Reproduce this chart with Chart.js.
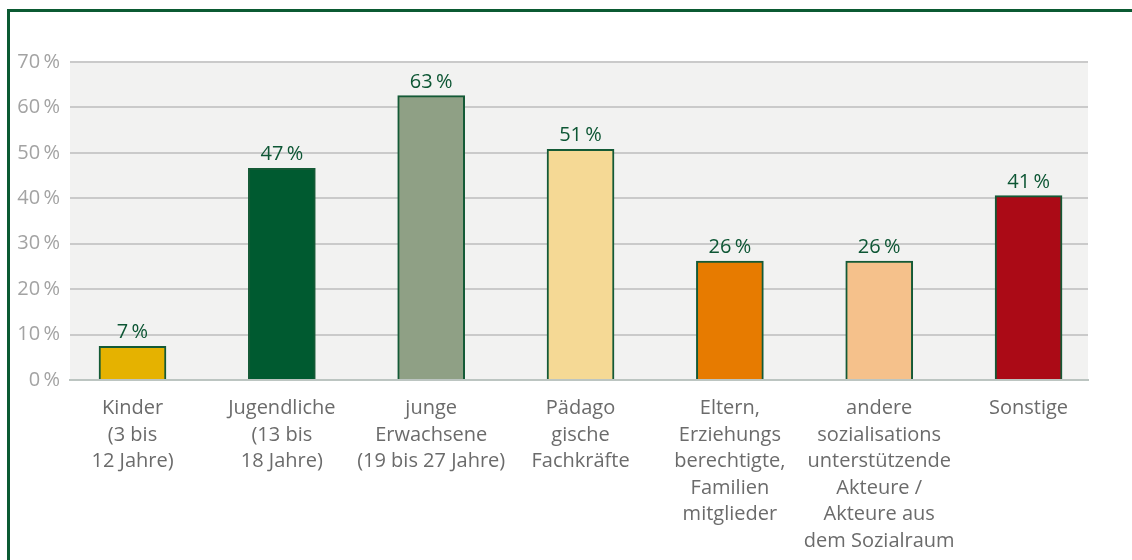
<!DOCTYPE html>
<html>
<head>
<meta charset="utf-8">
<script src="https://cdn.jsdelivr.net/npm/chart.js@4/dist/chart.umd.min.js"></script>
<style>
  html, body { margin: 0; padding: 0; background: #ffffff; overflow: hidden; }
  #wrap { position: relative; width: 1132px; height: 560px; }
  #frame { position: absolute; left: 7px; top: 9px; width: 1200px; height: 700px;
           border: 3px solid #0b5a32; box-sizing: border-box; }
  canvas { position: absolute; left: 0; top: 0; }
</style>
</head>
<body>
<div id="wrap">
  <div id="frame"></div>
  <canvas id="c" width="1132" height="560"></canvas>
</div>
<script>
const categories = [
  ["Kinder", "(3 bis", "12 Jahre)"],
  ["Jugendliche", "(13 bis", "18 Jahre)"],
  ["junge", "Erwachsene", "(19 bis 27 Jahre)"],
  ["Pädago", "gische", "Fachkräfte"],
  ["Eltern,", "Erziehungs", "berechtigte,", "Familien", "mitglieder"],
  ["andere", "sozialisations", "unterstützende", "Akteure /", "Akteure aus", "dem Sozialraum"],
  ["Sonstige"]
];
const values = [7.4, 46.6, 62.6, 50.8, 26.2, 26.2, 40.6];
const valueLabels = ["7\u2009%", "47\u2009%", "63\u2009%", "51\u2009%", "26\u2009%", "26\u2009%", "41\u2009%"];
const barColors = ["#e5b200", "#005a30", "#8fa085", "#f5d995", "#e77b00", "#f5c18b", "#ab0a16"];
const yTicks = [0, 10, 20, 30, 40, 50, 60, 70];

const FONT = "'Open Sans', sans-serif";

const bgPlugin = {
  id: 'bg',
  beforeDraw(chart) {
    const a = chart.chartArea, ctx = chart.ctx;
    ctx.save();
    ctx.fillStyle = '#f2f2f1';
    ctx.fillRect(a.left, a.top, a.right - a.left, a.bottom - a.top);
    ctx.restore();
  }
};
const labelPlugin = {
  id: 'vlabels',
  afterDatasetsDraw(chart) {
    const ctx = chart.ctx;
    const meta = chart.getDatasetMeta(0);
    ctx.save();
    ctx.font = "20px " + FONT;
    ctx.fillStyle = '#0d5634';
    ctx.textAlign = 'center';
    ctx.textBaseline = 'alphabetic';
    meta.data.forEach((bar, i) => {
      ctx.fillText(valueLabels[i], bar.x, bar.y - 8);
    });
    ctx.restore();
  }
};

new Chart(document.getElementById('c'), {
  type: 'bar',
  data: {
    datasets: [{
      data: values.map((v, i) => ({ x: i, y: v })),
      backgroundColor: barColors,
      borderColor: '#145a36',
      borderWidth: 2,
      borderSkipped: 'bottom',
      barThickness: 67
    }]
  },
  options: {
    responsive: false,
    animation: false,
    devicePixelRatio: 1,
    layout: { padding: { top: 62, right: 44, left: 0, bottom: 0 } },
    plugins: { legend: { display: false }, tooltip: { enabled: false } },
    scales: {
      x: {
        type: 'linear',
        offset: false,
        min: -0.4185,
        max: 6.398,
        afterBuildTicks: (axis) => { axis.ticks = categories.map((_, i) => ({ value: i })); },
        afterFit: (s) => { s.height = 180; },
        grid: { display: false, drawTicks: false },
        border: { display: true, color: '#bcc5c1', width: 2 },
        ticks: {
          autoSkip: false,
          maxRotation: 0,
          padding: 15,
          color: '#6b6b6b',
          font: { family: FONT, size: 20, lineHeight: 1.33 },
          callback: (v) => categories[v]
        }
      },
      y: {
        min: 0,
        max: 70,
        afterBuildTicks: (axis) => { axis.ticks = yTicks.map(v => ({ value: v })); },
        afterFit: (s) => { s.width = 70; },
        grid: { color: '#cacaca', lineWidth: 2, drawTicks: false },
        border: { display: false },
        ticks: {
          padding: 10,
          color: '#a3a3a3',
          font: { family: FONT, size: 20 },
          callback: (v) => v + "\u2009%"
        }
      }
    }
  },
  plugins: [bgPlugin, labelPlugin]
});
</script>
</body>
</html>
